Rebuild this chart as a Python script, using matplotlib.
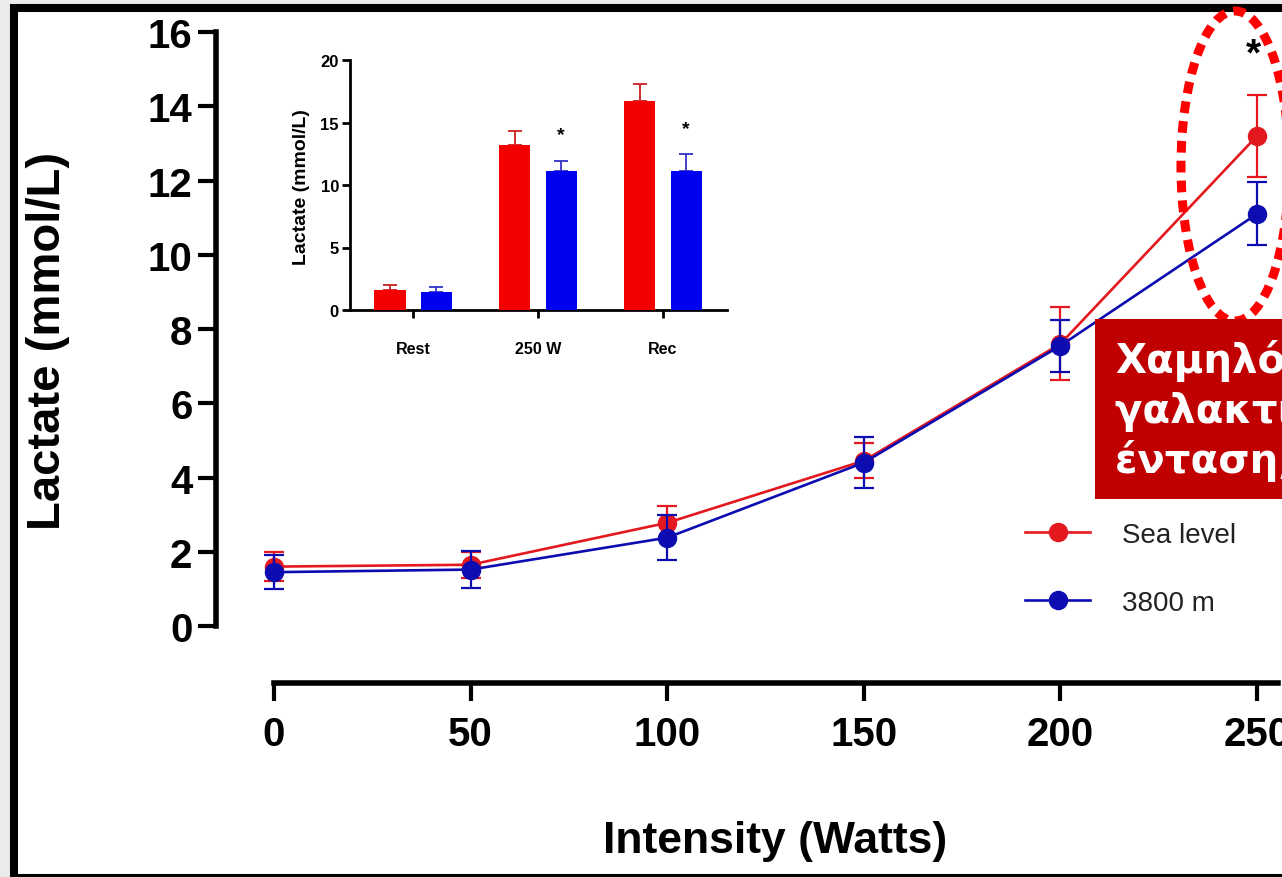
import matplotlib
matplotlib.use("Agg")
import matplotlib.pyplot as plt
from matplotlib.patches import Rectangle, Ellipse
from matplotlib.lines import Line2D

# ---------------- data ----------------
watts = [0, 50, 100, 150, 200, 250]
sea_level = [1.6, 1.65, 2.78, 4.45, 7.6, 13.2]
sea_level_err = [0.4, 0.35, 0.45, 0.47, 0.98, 1.1]
altitude = [1.45, 1.52, 2.38, 4.4, 7.55, 11.1]
altitude_err = [0.45, 0.5, 0.6, 0.68, 0.7, 0.85]
y_ticks = [0, 2, 4, 6, 8, 10, 12, 14, 16]
x_ticks = [0, 50, 100, 150, 200, 250]

inset_cats = ["Rest", "250 W", "Rec"]
inset_sea = [1.6, 13.2, 16.7]
inset_sea_err = [0.4, 1.1, 1.4]
inset_alt = [1.44, 11.1, 11.1]
inset_alt_err = [0.42, 0.8, 1.4]
inset_yticks = [0, 5, 10, 15, 20]

series_labels = ["Sea level", "3800 m"]
box_lines = ["Χαμηλότερο", "γαλακτικό στην ίδια", "ένταση, στο υψόμετρο"]

# ---------------- figure ----------------
W, H = 1282, 878
plt.rcParams['font.family'] = ['Liberation Sans', 'DejaVu Sans']
fig = plt.figure(figsize=(W / 100, H / 100), dpi=100)
fig.patch.set_facecolor('#ebebee')

def fx(x):
    return x / W

def fy(y):
    return 1 - y / H

# slide frame
frame = Rectangle((fx(14), fy(879)), fx(1300) - fx(14), fy(9) - fy(879),
                  transform=fig.transFigure, facecolor='white', edgecolor='black',
                  linewidth=5.8, zorder=-5)
fig.add_artist(frame)

RED = '#e3191f'
BLUE = '#0c0cb0'

# ---------------- main axes ----------------
ax = fig.add_axes([fx(216), fy(684), fx(1278) - fx(216), fy(33) - fy(684)])
ax.patch.set_visible(False)
px_per_w = (1257 - 274) / 250.0
x_left = (216 - 274) / px_per_w
x_right = (1278 - 274) / px_per_w
px_per_l = (627 - 33) / 16.0
y_bottom = -(684 - 627) / px_per_l
ax.set_xlim(x_left, x_right)
ax.set_ylim(y_bottom, 16)

ax.errorbar(watts, sea_level, yerr=sea_level_err, color=RED, lw=1.9,
            marker='o', ms=13, capsize=7, capthick=1.6, elinewidth=1.6, zorder=3)
ax.errorbar(watts, altitude, yerr=altitude_err, color=BLUE, lw=1.9,
            marker='o', ms=13, capsize=7, capthick=1.6, elinewidth=1.6, zorder=4)

for s in ['top', 'right']:
    ax.spines[s].set_visible(False)
ax.spines['left'].set_bounds(0, 16)
ax.spines['bottom'].set_bounds(0, x_right)
for s in ['left', 'bottom']:
    ax.spines[s].set_linewidth(4)
ax.set_yticks(y_ticks)
ax.set_xticks(x_ticks)
ax.tick_params(axis='both', direction='out', length=13, width=3, labelsize=29)
ax.tick_params(axis='y', pad=4)
ax.tick_params(axis='x', pad=10)
for lab in ax.get_xticklabels() + ax.get_yticklabels():
    lab.set_fontweight('bold')

ax.text(249, 15.4, '*', ha='center', va='center', fontsize=28, fontweight='bold')

fig.text(fx(775), fy(853), 'Intensity (Watts)', ha='center', va='baseline',
         fontsize=32, fontweight='bold')
fig.text(fx(48), fy(341), 'Lactate (mmol/L)', ha='center', va='center',
         rotation=90, fontsize=34, fontweight='bold')

# legend
handles = [Line2D([], [], color=RED, lw=1.9, marker='o', ms=13),
           Line2D([], [], color=BLUE, lw=1.9, marker='o', ms=13)]
leg = fig.legend(handles, series_labels, loc='upper left',
                 bbox_to_anchor=(fx(1025), fy(523)), frameon=False,
                 fontsize=20, handlelength=2.35, handletextpad=1.15,
                 labelspacing=1.5, borderpad=0, borderaxespad=0)
for t in leg.get_texts():
    t.set_color('#222222')

# ---------------- inset ----------------
ax2 = fig.add_axes([fx(350), fy(311), fx(727) - fx(350), fy(61) - fy(311)])
ax2.patch.set_visible(False)
pos = list(range(len(inset_cats)))
off = 0.185
bw = 0.25
ax2.bar([p - off for p in pos], inset_sea, width=bw, color='#f40000', zorder=3)
ax2.bar([p + off for p in pos], inset_alt, width=bw, color='#0000f0', zorder=3)
ax2.errorbar([p - off for p in pos], inset_sea,
             yerr=[[0] * len(pos), inset_sea_err], fmt='none',
             ecolor='#cc2020', elinewidth=1.3, capsize=5, capthick=1.3, zorder=2)
ax2.errorbar([p + off for p in pos], inset_alt,
             yerr=[[0] * len(pos), inset_alt_err], fmt='none',
             ecolor='#3030c8', elinewidth=1.3, capsize=5, capthick=1.3, zorder=2)
ax2.set_xlim((350 - 413) / 125.0, (727 - 413) / 125.0)
ax2.set_ylim(0, 20)
for s in ['top', 'right']:
    ax2.spines[s].set_visible(False)
for s in ['left', 'bottom']:
    ax2.spines[s].set_linewidth(2)
ax2.set_yticks(inset_yticks)
ax2.set_xticks(pos)
ax2.set_xticklabels(inset_cats)
ax2.tick_params(axis='both', direction='out', length=6, width=2)
ax2.tick_params(axis='y', labelsize=12, pad=2)
ax2.tick_params(axis='x', labelsize=11.5, pad=16)
for lab in ax2.get_xticklabels() + ax2.get_yticklabels():
    lab.set_fontweight('bold')
ax2.text(1 + off, 14.0, '*', ha='center', va='center', fontsize=14, fontweight='bold')
ax2.text(2 + off, 14.5, '*', ha='center', va='center', fontsize=14, fontweight='bold')
fig.text(fx(301), fy(187), 'Lactate (mmol/L)', ha='center', va='center',
         rotation=90, fontsize=14, fontweight='bold')

# ---------------- annotations ----------------
ell = Ellipse((fx(1235), fy(167)), 108 / W, 310 / H, transform=fig.transFigure,
              fill=False, edgecolor='#ff0000', lw=6.5, linestyle=(0, (1.3, 0.9)),
              zorder=10)
fig.add_artist(ell)

box = Rectangle((fx(1095), fy(500)), (1320 - 1095) / W, 180 / H,
                transform=fig.transFigure, facecolor='#c00000', edgecolor='none',
                zorder=11)
fig.add_artist(box)
for i, line in enumerate(box_lines):
    fig.text(fx(1115), fy(373 + 50 * i), line, ha='left', va='baseline',
             fontsize=29, fontweight='bold', color='white',
             family=['DejaVu Sans'], zorder=12)

fig.savefig('out.png', dpi=100, facecolor=fig.get_facecolor())
